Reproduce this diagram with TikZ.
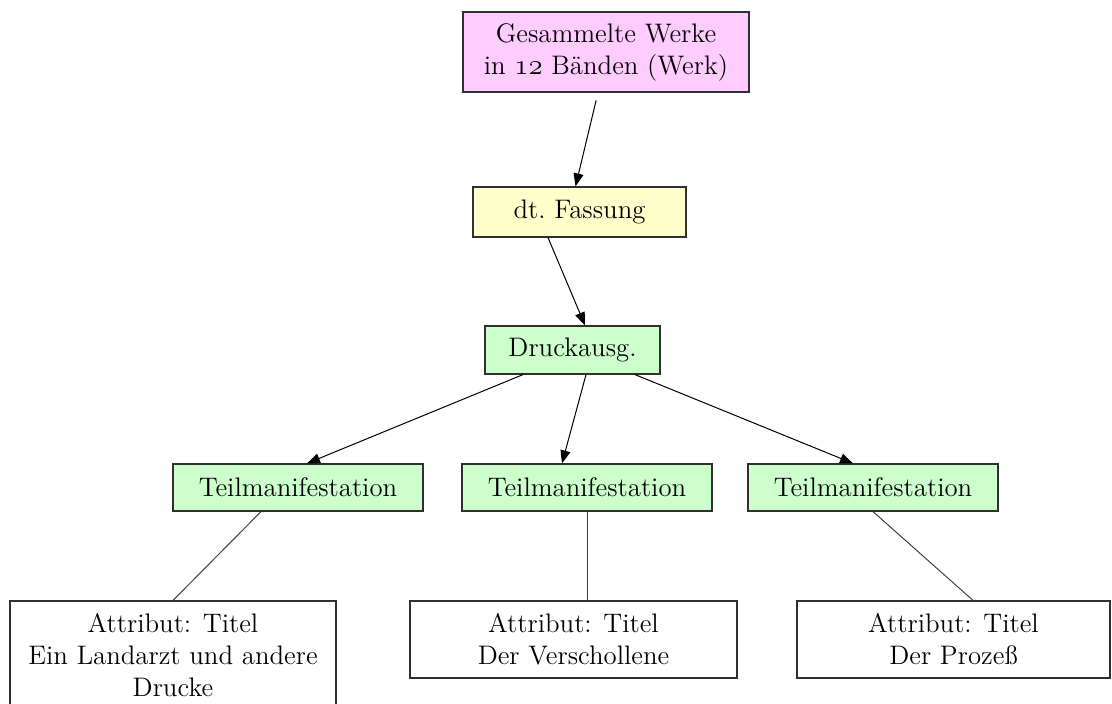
\documentclass[tikz,border=0pt]{standalone}
\usepackage{fontspec}
\usetikzlibrary{arrows.meta}
\definecolor{werkPink}{HTML}{FFCCFF}
\definecolor{fassungGelb}{HTML}{FFFFCC}
\definecolor{manifGruen}{HTML}{CCFFCC}
\definecolor{randGrau}{HTML}{303030}
\newcommand{\altZiffern}[1]{{\usefont{OML}{cmm}{m}{it}#1}}
\begin{document}
\begin{tikzpicture}[x=0.5pt, y=-0.5pt,
    every node/.style={font=\fontsize{13.4}{16}\selectfont, align=center, inner sep=0pt},
    box/.style={draw=randGrau, line width=0.6pt},
    teilbox/.style={box, fill=manifGruen, minimum width=125pt, minimum height=23.5pt},
    attrbox/.style={box, fill=white, minimum height=38.5pt},
    pfeil/.style={-{Triangle[length=6.5pt, width=5pt]}, line width=0.5pt},
    linie/.style={line width=0.5pt, draw=black!75}]
  \pgfmathsetmacro{\teilRow}{487.5};
  \pgfmathsetmacro{\attrRow}{639.5};
  \useasboundingbox (0,0) rectangle (1112,704);
  %% Werk, Fassung, Druckausgabe
  \node[box, fill=werkPink, minimum width=143pt, minimum height=40pt] (werk) at (606,52)
    {Gesammelte Werke\\in \altZiffern{12} Bänden (Werk)};
  \node[box, fill=fassungGelb, minimum width=106.5pt, minimum height=25pt] (fassung) at (579.5,212) {dt.~Fassung};
  \node[box, fill=manifGruen, minimum width=87.5pt, minimum height=24pt] (druck) at (572.5,350) {Druckausg.};
  %% Teilmanifestationen
  \node[teilbox] (teilA) at (298,\teilRow) {Teilmanifestation};
  \node[teilbox] (teilB) at (587,\teilRow) {Teilmanifestation};
  \node[teilbox] (teilC) at (873,\teilRow) {Teilmanifestation};
  %% Attribute
  \node[attrbox, minimum width=163pt, minimum height=54.5pt] (attrA) at (173,655.5)
    {Attribut: Titel\\Ein Landarzt und andere\\Drucke};
  \node[attrbox, minimum width=163.5pt] (attrB) at (573.5,\attrRow) {Attribut: Titel\\Der Verschollene};
  \node[attrbox, minimum width=156.5pt] (attrC) at (953.5,\attrRow) {Attribut: Titel\\Der Prozeß};
  %% Pfeile
  \draw[pfeil, shorten <=4pt] ([xshift=-4pt]werk.south) -- ([xshift=-2pt]fassung.north);
  \draw[pfeil] ([xshift=-15.75pt]fassung.south) -- ([xshift=6.25pt]druck.north);
  \draw[pfeil] ([xshift=-24.75pt]druck.south) -- ([xshift=4.5pt]teilA.north);
  \draw[pfeil] ([xshift=6.75pt]druck.south) -- ([xshift=-12.5pt]teilB.north);
  \draw[pfeil] ([xshift=31.25pt]druck.south) -- ([xshift=-10pt]teilC.north);
  %% Linien zu den Attributen
  \draw[linie] ([xshift=-18.5pt]teilA.south) -- (attrA.north);
  \draw[linie] (teilB.south) -- (teilB.south |- attrB.north);
  \draw[linie] (teilC.south) -- ([xshift=9.75pt]attrC.north);
\end{tikzpicture}
\end{document}
